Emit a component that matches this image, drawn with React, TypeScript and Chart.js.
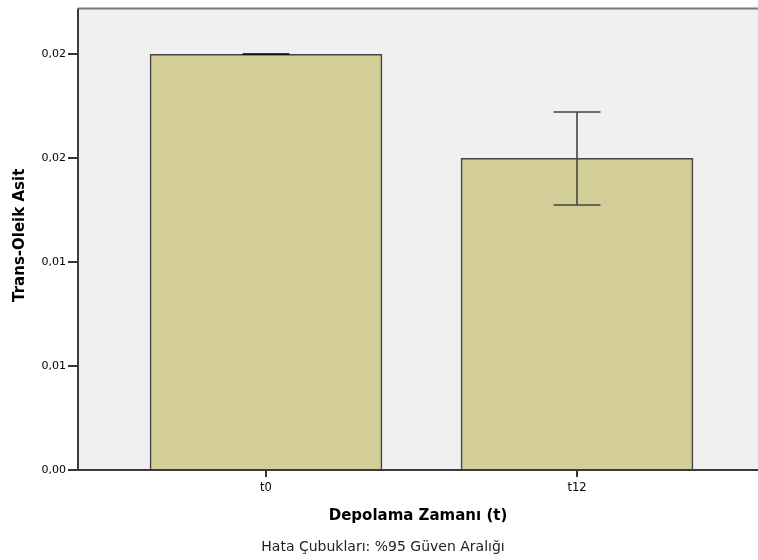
import React, { useEffect, useRef } from "react";
import { Chart, registerables } from "chart.js";

Chart.register(...registerables);

const categories = ["t0", "t12"];
const meanValues = [0.02, 0.015];
const ciLow = [0.02, 0.01277];
const ciHigh = [0.02, 0.01724];
const yTickValues = [0, 0.005, 0.01, 0.015, 0.02];
const yTickLabels = ["0,00", "0,01", "0,01", "0,02", "0,02"];
const xTitle = "Depolama Zamanı (t)";
const yTitle = "Trans-Oleik Asit";
const footnote = "Hata Çubukları: %95 Güven Aralığı";

const FONT = "'DejaVu Sans', Verdana, sans-serif";

const framePlugin = {
  id: "frame",
  beforeDraw(chart: any) {
    const { ctx, chartArea } = chart;
    ctx.save();
    ctx.fillStyle = "#f0f0f0";
    ctx.fillRect(chartArea.left, chartArea.top, chartArea.right - chartArea.left, chartArea.bottom - chartArea.top);
    ctx.restore();
  },
  afterDatasetsDraw(chart: any) {
    const { ctx, chartArea } = chart;
    const xs = chart.scales.x;
    const ys = chart.scales.y;
    ctx.save();
    // error bars
    for (let i = 0; i < categories.length; i++) {
      const cx = Math.round(xs.getPixelForValue(i));
      const yl = Math.round(ys.getPixelForValue(ciLow[i]));
      const yh = Math.round(ys.getPixelForValue(ciHigh[i]));
      const hw = 23.5;
      ctx.strokeStyle = ciLow[i] === ciHigh[i] ? "#000000" : "#444444";
      ctx.lineWidth = 1.6;
      ctx.beginPath();
      ctx.moveTo(cx, yl);
      ctx.lineTo(cx, yh);
      ctx.moveTo(cx - hw, yl);
      ctx.lineTo(cx + hw, yl);
      ctx.moveTo(cx - hw, yh);
      ctx.lineTo(cx + hw, yh);
      ctx.stroke();
    }
    // frame
    ctx.strokeStyle = "#7a7a7a";
    ctx.lineWidth = 2;
    ctx.beginPath();
    ctx.moveTo(chartArea.left, chartArea.top);
    ctx.lineTo(chartArea.right, chartArea.top);
    ctx.stroke();
    ctx.strokeStyle = "#3a3a3a";
    ctx.lineWidth = 2;
    ctx.beginPath();
    ctx.moveTo(chartArea.left, chartArea.top);
    ctx.lineTo(chartArea.left, chartArea.bottom);
    ctx.lineTo(chartArea.right, chartArea.bottom);
    ctx.stroke();
    // titles
    ctx.fillStyle = "#000000";
    ctx.textAlign = "center";
    ctx.textBaseline = "middle";
    ctx.font = `bold 15px ${FONT}`;
    ctx.fillText(xTitle, (chartArea.left + chartArea.right) / 2, 516);
    ctx.font = `14px ${FONT}`;
    ctx.fillStyle = "#222222";
    ctx.fillText(footnote, 383, 547);
    ctx.save();
    ctx.translate(20, (chartArea.top + chartArea.bottom) / 2 - 4);
    ctx.rotate(-Math.PI / 2);
    ctx.fillStyle = "#000000";
    ctx.font = `bold 15px ${FONT}`;
    ctx.fillText(yTitle, 0, 0);
    ctx.restore();
    ctx.restore();
  },
};

export default function App() {
  const ref = useRef<HTMLCanvasElement | null>(null);
  useEffect(() => {
    document.body.style.margin = "0";
    const canvas = ref.current;
    if (!canvas) return;
    const chart = new Chart(canvas, {
      type: "bar",
      data: {
        datasets: [
          {
            data: categories.map((_, i) => ({ x: i, y: meanValues[i] })),
            backgroundColor: "#d3ce97",
            borderColor: "#454545",
            borderWidth: 1.6,
            barThickness: 232,
          } as any,
        ],
      },
      options: {
        animation: false,
        responsive: false,
        devicePixelRatio: 1,
        layout: { padding: { top: 7, right: 0, left: 0, bottom: 0 } },
        plugins: { legend: { display: false }, tooltip: { enabled: false } },
        scales: {
          x: {
            type: "linear",
            offset: false,
            min: -0.6045,
            max: 1.582,
            afterBuildTicks(scale: any) {
              scale.ticks = categories.map((_, i) => ({ value: i }));
            },
            afterFit(scale: any) {
              scale.height = 90;
            },
            border: { display: false },
            grid: { offset: false, drawOnChartArea: false, tickLength: 7, color: "#333333", lineWidth: 2 },
            ticks: {
              callback: (v: any) => categories[Number(v)] ?? "",
              color: "#000000",
              font: { family: FONT, size: 11.5 },
              padding: 4,
              maxRotation: 0,
            },
          },
          y: {
            min: 0,
            max: 0.0222,
            afterBuildTicks(scale: any) {
              scale.ticks = yTickValues.map((v) => ({ value: v }));
            },
            afterFit(scale: any) {
              scale.width = 78;
            },
            border: { display: false },
            grid: { drawOnChartArea: false, tickLength: 10, color: "#333333", lineWidth: 2 },
            ticks: {
              callback: (v: any) => {
                const idx = yTickValues.findIndex((t) => Math.abs(t - Number(v)) < 1e-9);
                return idx >= 0 ? yTickLabels[idx] : "";
              },
              color: "#000000",
              font: { family: FONT, size: 11 },
              padding: 2,
            },
          },
        },
      } as any,
      plugins: [framePlugin],
    });
    return () => chart.destroy();
  }, []);
  return (
    <div style={{ position: "absolute", left: 0, top: 0, width: 758, height: 560, background: "#ffffff" }}>
      <canvas ref={ref} width={758} height={560} style={{ width: 758, height: 560 }} />
    </div>
  );
}
